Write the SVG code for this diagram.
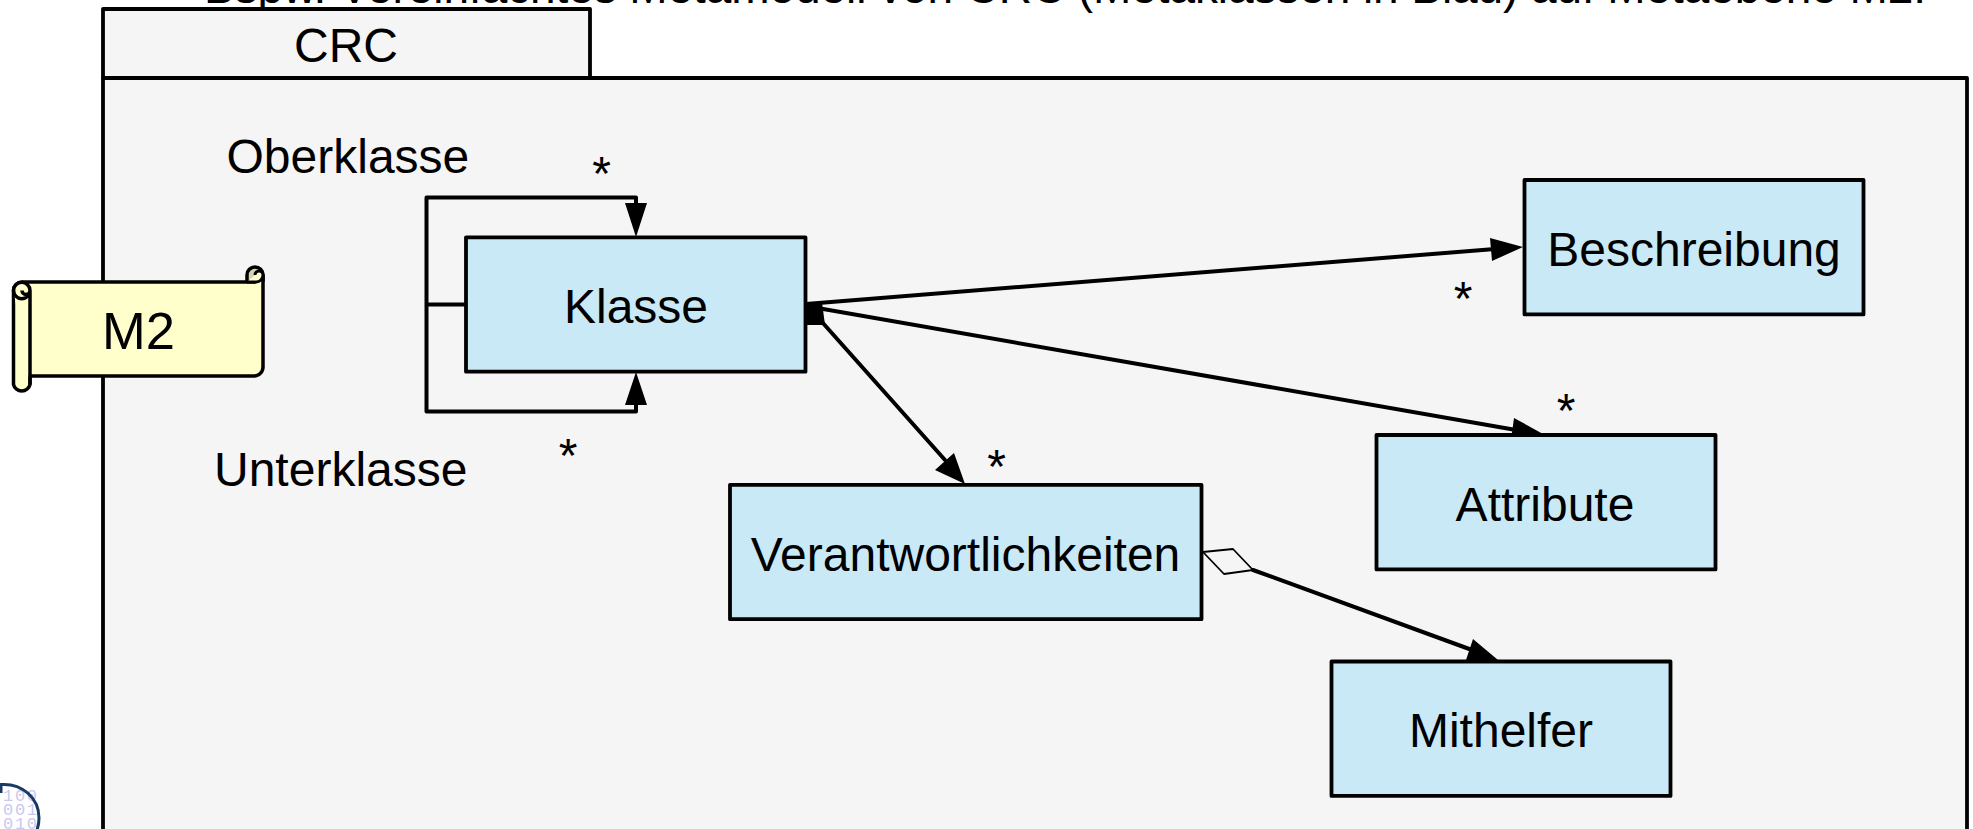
<svg xmlns="http://www.w3.org/2000/svg" width="1973" height="829" viewBox="0 0 1973 829">
<style>
text{font-family:"Liberation Sans",Arial,sans-serif;font-size:48px;fill:#000}
.m{text-anchor:middle}
.box{fill:#c9e9f7;stroke:#000;stroke-width:3.8;stroke-linejoin:round}
.line{fill:none;stroke:#000;stroke-width:4;stroke-linejoin:round;stroke-linecap:round}
.head{fill:#000;stroke:none}
.pkg{fill:#f5f5f5;stroke:#000;stroke-width:3.8;stroke-linejoin:round}
.scroll{fill:#ffffcc;stroke:#000;stroke-width:3.500;stroke-linejoin:round}
.bin{font-size:17px;fill:#c9c9f0;font-family:"Liberation Mono",monospace}
</style>
<rect width="1973" height="829" fill="#fff"/>
<text id="title" x="204" y="3" style="font-size:46px" textLength="1722">Bspw. Vereinfachtes Metamodell von CRC (Metaklassen in Blau) auf Metaebene M2.</text>
<g id="package-crc">
<rect class="pkg" x="103" y="9" width="487" height="69"/>
<rect class="pkg" x="103" y="78" width="1864" height="780"/>
<text class="m" x="346" y="62">CRC</text>
</g>
<g id="node-m2">
<path class="scroll" d="M22 282H255V276a8.500 8.500 0 0 1 8 0V367a9 9 0 0 1-9 9H30V384.500a8.500 8.500 0 0 1-16.500 0V290.500a8.500 8.500 0 0 1 8.500-8.500Z"/>
<path class="scroll" d="M13.500 290.500a8.250 8.250 0 0 0 16.500 0V384.500M13.500 290.500a8.250 8.250 0 0 1 16.500 0a4 4 0 0 1-8 0"/>
<path d="M247 282V275a8 8 0 0 1 16 0V282" fill="#d4d4b0" stroke="#000" stroke-width="3.500"/>
<path d="M247 282H256a7 7 0 0 0 7-7a4 4 0 0 0-8 0" fill="#ffffcc" stroke="#000" stroke-width="3"/>
<text class="m" x="138.500" y="349" style="font-size:52.500px">M2</text>
</g>
<g id="connectors">
<path class="line" d="M466 304.500H426.500M426.500 197.500H636V205M426.500 197.500V411.500H636V404"/>
<polygon class="head" points="636,237 625,203 647,203"/>
<polygon class="head" points="636,372 625,405 647,405"/>
<polygon class="head" points="806,303 822,302 825,325 806,325"/>
<path class="line" d="M806 304L1495 249"/>
<polygon class="head" points="1523,247 1490,238 1492,261"/>
<path class="line" d="M806 306L1516 430"/>
<polygon class="head" points="1543,434 1514,418 1511,440"/>
<path class="line" d="M822 322L945 460"/>
<polygon class="head" points="965,484 935,470 954,453"/>
<polygon points="1203,552 1233,549 1253,570 1224,574" fill="#f5f5f5" stroke="#000" stroke-width="1.800" stroke-linejoin="round"/>
<path class="line" d="M1253 570L1472 650"/>
<polygon class="head" points="1498,660 1473,639 1466,660"/>
</g>
<g id="node-klasse"><rect class="box" x="466" y="237.300" width="339.500" height="134.400"/><text class="m" x="636" y="322.500">Klasse</text></g>
<g id="node-beschreibung"><rect class="box" x="1524.500" y="180" width="339" height="134.400"/><text class="m" x="1694" y="266">Beschreibung</text></g>
<g id="node-attribute"><rect class="box" x="1376.500" y="435" width="339" height="134.400"/><text class="m" x="1545" y="521">Attribute</text></g>
<g id="node-verantwortlichkeiten"><rect class="box" x="730" y="484.800" width="471.500" height="134.400"/><text class="m" x="965.500" y="571">Verantwortlichkeiten</text></g>
<g id="node-mithelfer"><rect class="box" x="1331.500" y="661.500" width="339" height="134.400"/><text class="m" x="1501" y="746.500">Mithelfer</text></g>
<g id="labels">
<text x="226.500" y="173">Oberklasse</text>
<text x="214" y="486">Unterklasse</text>
<text class="m" x="601.500" y="190">*</text>
<text class="m" x="568" y="472">*</text>
<text class="m" x="1463" y="315">*</text>
<text class="m" x="1566" y="427">*</text>
<text class="m" x="996.500" y="483">*</text>
</g>
<g id="logo">
<text class="bin" x="3" y="801" textLength="34">100</text>
<text class="bin" x="3" y="815" textLength="34">001</text>
<text class="bin" x="3" y="829" textLength="34">010</text>
<path d="M1 793V784.500C22 783 39 798 39 818C39 824 38 827 37 830" fill="none" stroke="#1a3a66" stroke-width="3"/>
</g>
</svg>
